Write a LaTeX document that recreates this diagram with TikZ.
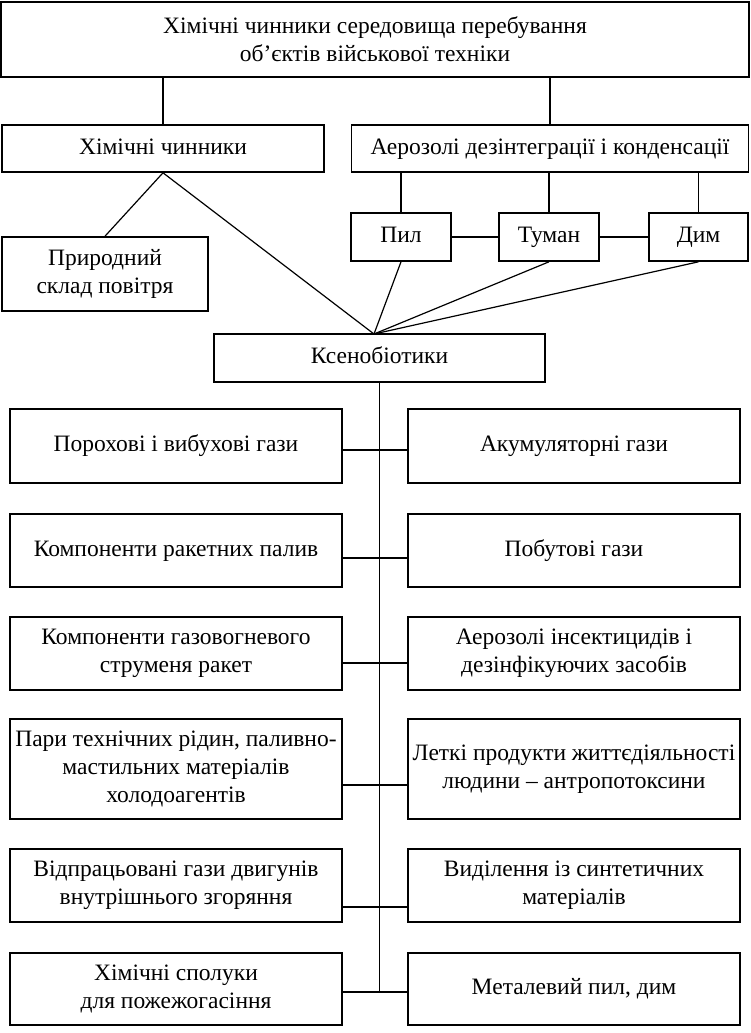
\documentclass[tikz,border=0pt]{standalone}
\usepackage{fontspec}
\setmainfont{Liberation Serif}
\tikzset{
  box/.style={draw,line width=1.6pt,inner sep=2pt,align=center,
    font=\fontsize{23.5}{28}\selectfont},
  one/.style={text height=16pt,text depth=5pt},
  link/.style={line width=1.2pt}
}
\begin{document}
\begin{tikzpicture}[x=1pt,y=-1pt]
  \useasboundingbox (0,0) rectangle (750,1033);
  \node[box,minimum width=748pt,minimum height=75pt] (top) at (375,39.5)
    {Хімічні чинники середовища перебування\\об’єктів військової техніки};
  \node[box,one,minimum width=322pt,minimum height=47pt] (chem) at (163,148.5) {Хімічні чинники};
  \node[box,one,minimum width=397pt,minimum height=47pt] (aero) at (550,148.5)
    {Аерозолі дезінтеграції і конденсації};
  \node[box,minimum width=206pt,minimum height=74pt] (nat) at (105,274)
    {Природний\\склад повітря};
  \node[box,one,minimum width=100pt,minimum height=48pt] (dust) at (401,237) {Пил};
  \node[box,one,minimum width=100pt,minimum height=48pt] (fog) at (549,237) {Туман};
  \node[box,one,minimum width=99pt,minimum height=48pt] (smoke) at (698.5,237) {Дим};
  \node[box,one,minimum width=331pt,minimum height=48pt] (xeno) at (379.5,358) {Ксенобіотики};
  \coordinate (hub) at (374,334);

  \draw[link] (chem.north |- top.south) -- (chem.north);
  \draw[link] (aero.north |- top.south) -- (aero.north);
  \draw[link] (chem.south) -- (nat.north);
  \draw[link] (chem.south) -- (hub);
  \foreach \n in {dust,fog,smoke}{
    \draw[link] (\n.north |- aero.south) -- (\n.north);
    \draw[link] (\n.south) -- (hub);
  }
  \draw[link] (dust) -- (fog);
  \draw[link] (fog) -- (smoke);

  \tikzset{col/.style={box,minimum width=332pt}}
  \node[col,one,minimum height=74pt] (l1) at (176,446) {Порохові і вибухові гази};
  \node[col,one,minimum height=74pt] (r1) at (574,446) {Акумуляторні гази};
  \node[col,one,minimum height=73pt] (l2) at (176,550.5) {Компоненти ракетних палив};
  \node[col,one,minimum height=73pt] (r2) at (574,550.5) {Побутові гази};
  \node[col,minimum height=73pt] (l3) at (176,653.5)
    {Компоненти газовогневого\\струменя ракет};
  \node[col,minimum height=73pt] (r3) at (574,653.5)
    {Аерозолі інсектицидів і\\дезінфікуючих засобів};
  \node[col,minimum height=100pt] (l4) at (176,769)
    {Пари технічних рідин, паливно-\\мастильних матеріалів\\холодоагентів};
  \node[col,minimum height=100pt] (r4) at (574,769)
    {Леткі продукти життєдіяльності\\людини – антропотоксини};
  \node[col,minimum height=73pt] (l5) at (176,885.5)
    {Відпрацьовані гази двигунів\\внутрішнього згоряння};
  \node[col,minimum height=73pt] (r5) at (574,885.5)
    {Виділення із синтетичних\\матеріалів};
  \node[col,minimum height=72pt] (l6) at (176,989)
    {Хімічні сполуки\\для пожежогасіння};
  \node[col,one,minimum height=72pt] (r6) at (574,989) {Металевий пил, дим};

  \draw[link] (xeno.south) -- (xeno.south |- 0,992);
  \foreach \r/\y in {1/450,2/558,3/663,4/785,5/907,6/992}
    \draw[link] (l\r.east |- 0,\y) -- (r\r.west |- 0,\y);
\end{tikzpicture}
\end{document}
